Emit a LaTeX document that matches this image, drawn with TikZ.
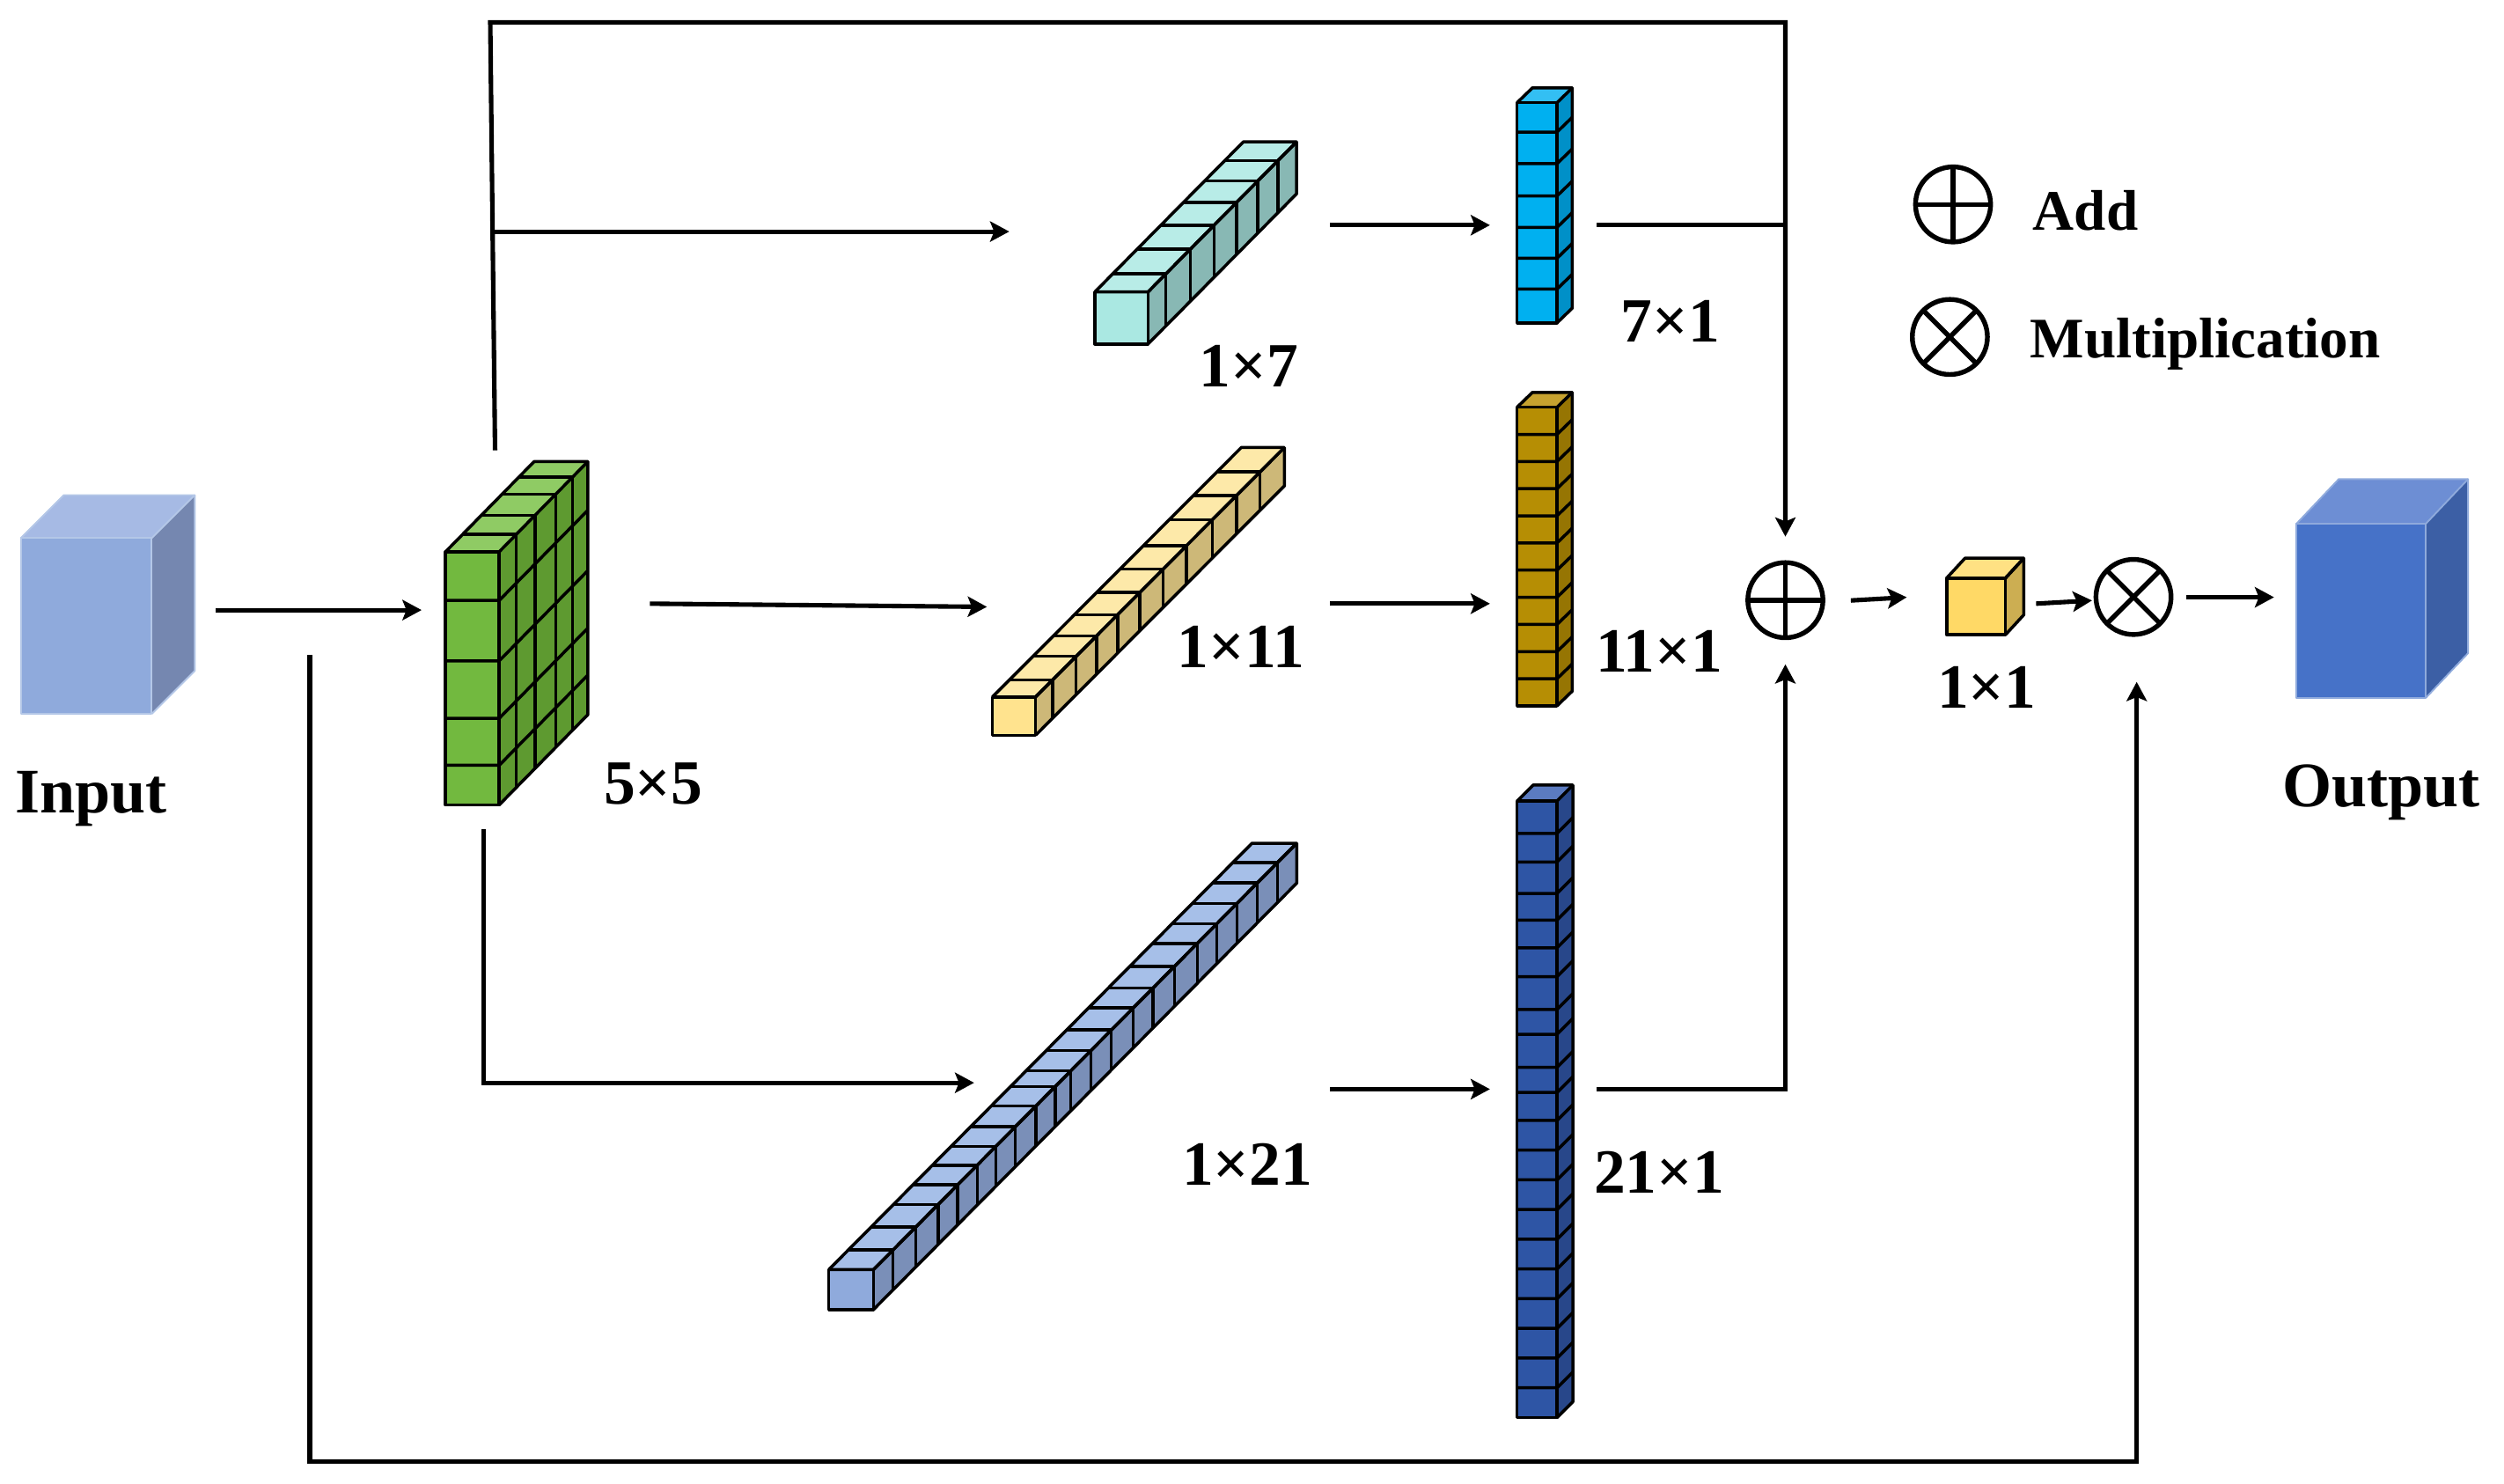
\documentclass[tikz,border=0pt]{standalone}
\usepackage{fontspec}
\setmainfont{Liberation Serif}
\usetikzlibrary{arrows.meta}
\definecolor{grnF}{HTML}{72B93F}\definecolor{grnT}{HTML}{8FCB64}\definecolor{grnS}{HTML}{5E9A30}
\definecolor{tealF}{HTML}{AAE8E2}\definecolor{tealT}{HTML}{B8ECE7}\definecolor{tealS}{HTML}{88B8B4}
\definecolor{yelF}{HTML}{FFE38E}\definecolor{yelT}{HTML}{FDE9A9}\definecolor{yelS}{HTML}{CDB878}
\definecolor{perF}{HTML}{8FAADC}\definecolor{perT}{HTML}{A6BFE8}\definecolor{perS}{HTML}{7A8FB8}
\definecolor{cyaF}{HTML}{00B0F0}\definecolor{cyaT}{HTML}{33BFF3}\definecolor{cyaS}{HTML}{0090C8}
\definecolor{golF}{HTML}{B68E04}\definecolor{golT}{HTML}{C6A22F}\definecolor{golS}{HTML}{967503}
\definecolor{navF}{HTML}{2E55A5}\definecolor{navT}{HTML}{5B7BC0}\definecolor{navS}{HTML}{28478A}
\definecolor{oneF}{HTML}{FFD966}\definecolor{oneT}{HTML}{FFE183}\definecolor{oneS}{HTML}{CCAE52}
\definecolor{inF}{HTML}{8FAADC}\definecolor{inT}{HTML}{A6BAE4}\definecolor{inS}{HTML}{7587B0}\definecolor{inE}{HTML}{B4C7E7}
\definecolor{outF}{HTML}{4672C8}\definecolor{outT}{HTML}{6D8ED4}\definecolor{outS}{HTML}{3C5FA5}\definecolor{outE}{HTML}{8FAADC}
\tikzset{
  conn/.style={line width=0.8pt,-{Stealth[length=3.4pt,width=3.6pt,inset=0.7pt]}},
  plain/.style={line width=0.8pt},
  edge3d/.style={draw=black,line width=0.55pt,line join=round},
  dim/.style={font=\fontsize{11.2}{13}\selectfont\bfseries,anchor=base,inner sep=0pt},
  leg/.style={font=\fontsize{10.2}{12}\selectfont\bfseries,anchor=base,inner sep=0pt},
  big/.style={font=\fontsize{11.3}{13}\selectfont\bfseries,anchor=base,inner sep=0pt},
  opbase/.style={circle,draw=black,line width=0.85pt,inner sep=0pt,minimum size=0.47cm},
  addop/.style={opbase,path picture={
    \draw[line width=0.85pt] (path picture bounding box.north)--(path picture bounding box.south);
    \draw[line width=0.85pt] (path picture bounding box.west)--(path picture bounding box.east);}},
  mulop/.style={opbase,path picture={
    \draw[line width=0.85pt] (path picture bounding box.north west)--(path picture bounding box.south east);
    \draw[line width=0.85pt] (path picture bounding box.north east)--(path picture bounding box.south west);}}
}
% x,y,w,h,dx,dy,depth fractions,row offsets,colour prefix
\newcommand\cub[9]{%
  \fill[#9F] (#1,#2) rectangle ++(#3,#4);
  \fill[#9T] (#1,#2) -- ++(#3,0) -- ++(#5,#6) -- ++(-#3,0) -- cycle;
  \fill[#9S] ({#1+#3},#2) -- ++(#5,#6) -- ++(0,#4) -- ++(-#5,-#6) -- cycle;
  \foreach \f in {#7}{
    \draw[edge3d] ({#1+\f*#5},{#2+\f*#6}) -- ++(#3,0) -- ++(0,#4);
  }
  \foreach \r in {#8}{
    \draw[edge3d] (#1,{#2+\r}) -- ++(#3,0) -- ++(#5,#6);
  }
  \draw[edge3d] (#1,#2) rectangle ++(#3,#4);
  \draw[edge3d] (#1,#2) -- ++(#5,#6) -- ++(#3,0) -- ++(0,#4) -- ({#1+#3},{#2+#4});
  \draw[edge3d] ({#1+#3},#2) -- ++(#5,#6);
}
% x,y,w,h,dx,dy,colour prefix
\newcommand\slab[7]{%
  \fill[#7F] (#1,#2) rectangle ++(#3,#4);
  \fill[#7T] (#1,#2) -- ++(#3,0) -- ++(#5,#6) -- ++(-#3,0) -- cycle;
  \fill[#7S] ({#1+#3},#2) -- ++(#5,#6) -- ++(0,#4) -- ++(-#5,-#6) -- cycle;
  \draw[#7E,line width=0.3pt,line join=round] (#1,#2) rectangle ++(#3,#4);
  \draw[#7E,line width=0.3pt,line join=round] (#1,#2) -- ++(#5,#6) -- ++(#3,0) -- ++(0,#4) -- ({#1+#3},{#2+#4});
  \draw[#7E,line width=0.3pt] ({#1+#3},#2) -- ++(#5,#6);
}
\begin{document}
\begin{tikzpicture}[x=0.01cm,y=-0.01cm]
\useasboundingbox (0,0) rectangle (1568,928.7);
\fill[white] (0,0) rectangle (1568,928.7);

% solid blocks
\slab{13}{337}{82}{110}{27}{-27}{in}
\slab{1438}{328}{81}{109}{26.5}{-28}{out}

% gridded blocks
\cub{279}{345.5}{33.6}{158.5}{55.5}{-56.5}{0.193,0.404,0.639,0.827}{30.5,68.3,104.3,133.7}{grn}
\cub{685.6}{182.8}{33.3}{32.6}{93}{-94}{0.12,0.285,0.445,0.595,0.74,0.875}{0}{teal}
\cub{621.5}{436.4}{27}{24}{155.8}{-156.2}{0.068,0.163,0.245,0.33,0.419,0.513,0.607,0.71,0.808,0.902}{0}{yel}
\cub{519}{795}{28}{25}{265}{-267}{0.046,0.1,0.153,0.199,0.245,0.289,0.335,0.384,0.429,0.466,0.514,0.562,0.614,0.66,0.711,0.765,0.811,0.859,0.907,0.955}{0}{per}
\cub{950}{64.3}{25}{137.9}{9.6}{-9.3}{0}{18.4,38.2,58.4,78.1,97.4,116.7}{cya}
\cub{950}{255}{25}{187}{9.6}{-9.3}{0}{17,34,51,68,85,102,119,136,153,170}{gol}
\cub{950}{501.6}{25}{386}{10}{-10}{0}{20.2,38.2,57.9,74.5,91.9,109.9,130.5,146,166.7,182.5,200,218.6,237.2,255.8,274.4,293,311.6,330.2,348.8,367.4}{nav}
\cub{1219}{362}{36.8}{35.5}{11.5}{-12.5}{0}{0}{one}

% operators
\node[addop] (add) at (1118,375.8) {};
\node[mulop] (mul) at (1336,373.8) {};
\node[addop] (legadd) at (1223,128) {};
\node[mulop] (legmul) at (1221,211) {};

% labels
\node[big] (lblinput) at (57,509) {Input};
\node[big] (lbloutput) at (1491,505) {Output};
\node[dim] (lbl55) at (409,503.6) {5×5};
\node[dim] (lbl17) at (782,242) {1×7};
\node[dim] (lbl71) at (1046,214) {7×1};
\node[dim] (lbl111) at (777,418) {1×11};
\node[dim] (lbl11x1) at (1039,421) {11×1};
\node[dim] (lbl121) at (781,742) {1×21};
\node[dim] (lbl21x1) at (1039,747) {21×1};
\node[dim] (lbl1x1) at (1244,443.4) {1×1};
\node[leg] (lbladd) at (1306,144) {Add};
\node[leg] (lblmul) at (1381,224) {Multiplication};

% connector ends
\coordinate (inR) at (135,382);
\coordinate (grnL) at (264,382);
\coordinate (grnUp) at (310,282);
\coordinate (topL) at (307,14);
\coordinate (topBr) at (309.4,145);
\coordinate (tealL) at (632,145);
\coordinate (topR) at (1118,14);
\coordinate (addN) at (1118,336);
\coordinate (tealR) at (833,141);
\coordinate (cyaL) at (933,141);
\coordinate (cyaR) at (1000,141);
\coordinate (cyaJ) at (1118,141);
\coordinate (grnR) at (407,378);
\coordinate (yelL) at (618,380);
\coordinate (yelR) at (833,378);
\coordinate (golL) at (933,378);
\coordinate (grnD) at (303,519);
\coordinate (grnDB) at (303,678);
\coordinate (perL) at (610,678);
\coordinate (perR) at (833,682);
\coordinate (navL) at (933,682);
\coordinate (navR) at (1000,682);
\coordinate (addS) at (1118,416);
\coordinate (addE) at (1159,376);
\coordinate (oneL) at (1194,374);
\coordinate (oneR) at (1275,378);
\coordinate (mulW) at (1310,376);
\coordinate (mulE) at (1369,374);
\coordinate (outL) at (1424,374);
\coordinate (skipS) at (194,410);
\coordinate (mulS) at (1338,427);

% connectors
\draw[conn] (inR) -- (grnL);
\draw[conn] (grnUp) -- (topL) -- (topR) -- (addN);
\draw[conn] (topBr) -- (tealL);
\draw[conn] (tealR) -- (cyaL);
\draw[plain] (cyaR) -- (cyaJ);
\draw[conn] (grnR) -- (yelL);
\draw[conn] (yelR) -- (golL);
\draw[conn] (grnD) -- (grnDB) -- (perL);
\draw[conn] (perR) -- (navL);
\draw[conn] (navR) -| (addS);
\draw[conn] (addE) -- (oneL);
\draw[conn] (oneR) -- (mulW);
\draw[conn] (mulE) -- (outL);
\draw[conn] (skipS) |- (1338,915) -- (mulS);
\end{tikzpicture}
\end{document}
